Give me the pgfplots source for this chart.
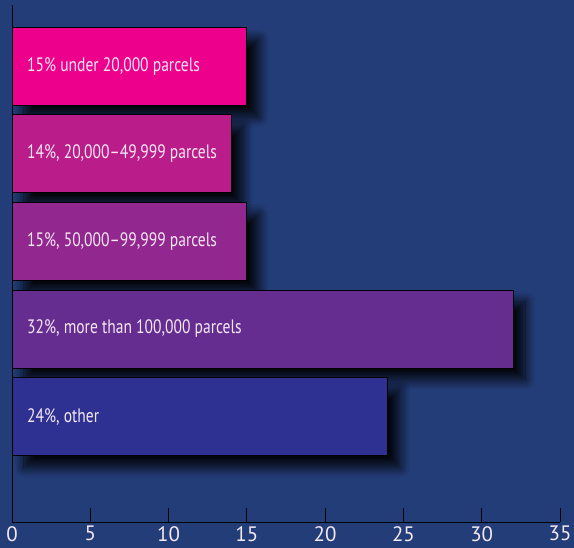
\documentclass[border=0pt]{standalone}
\usepackage{pgfplots}
\pgfplotsset{compat=1.18}
\usepackage{fontspec}
\setmainfont{PT Sans}
\newfontfamily\condfont{PT Sans}[FakeStretch=0.8]
\usetikzlibrary{shadows.blur}
\definecolor{bg}{HTML}{233D78}
\definecolor{c1}{HTML}{EC008C}
\definecolor{c2}{HTML}{BA1C8A}
\definecolor{c3}{HTML}{92278F}
\definecolor{c4}{HTML}{662D91}
\definecolor{c5}{HTML}{2E3192}
\definecolor{lab}{HTML}{F4E8F2}
\begin{document}
\begin{tikzpicture}
\useasboundingbox (0,0) rectangle (574bp,548bp);
\fill[bg] (0,0) rectangle (574bp,548bp);
\begin{axis}[
  at={(12bp,26bp)}, anchor=south west,
  scale only axis, width=548bp, height=517bp,
  xmin=0, xmax=35, ymin=-1.204, ymax=4.698,
  axis x line*=bottom, axis y line*=left,
  axis line style={black, line width=0.9bp, -},
  xbar, bar width=0.89, bar shift=0pt,
  xtick={0,5,...,35}, ytick=\empty,
  tick align=inside, major tick length=14bp,
  tick style={black, line width=0.9bp},
  xticklabel style={text=lab, font=\fontsize{21}{21}\selectfont, inner sep=0pt, yshift=-4bp},
  /pgf/number format/assume math mode=true,
  clip=false,
  every axis plot/.append style={draw=black, line width=0.8bp,
    blur shadow={shadow xshift=12bp, shadow yshift=-12bp, shadow blur radius=10bp, shadow blur steps=12, shadow opacity=90}},
]
\addplot[fill=c1] coordinates {(15,4)};
\addplot[fill=c2] coordinates {(14,3)};
\addplot[fill=c3] coordinates {(15,2)};
\addplot[fill=c4] coordinates {(32,1)};
\addplot[fill=c5] coordinates {(24,0)};
\tikzset{barlab/.style={anchor=west, xshift=15bp, inner sep=0pt, text=lab, font=\condfont\fontsize{19.5}{19.5}\selectfont}}
\node[barlab] at (axis cs:0,4) {15\% under 20,000 parcels};
\node[barlab] at (axis cs:0,3) {14\%, 20,000–49,999 parcels};
\node[barlab] at (axis cs:0,2) {15\%, 50,000–99,999 parcels};
\node[barlab] at (axis cs:0,1) {32\%, more than 100,000 parcels};
\node[barlab] at (axis cs:0,0) {24\%, other};
\end{axis}
\end{tikzpicture}
\end{document}
